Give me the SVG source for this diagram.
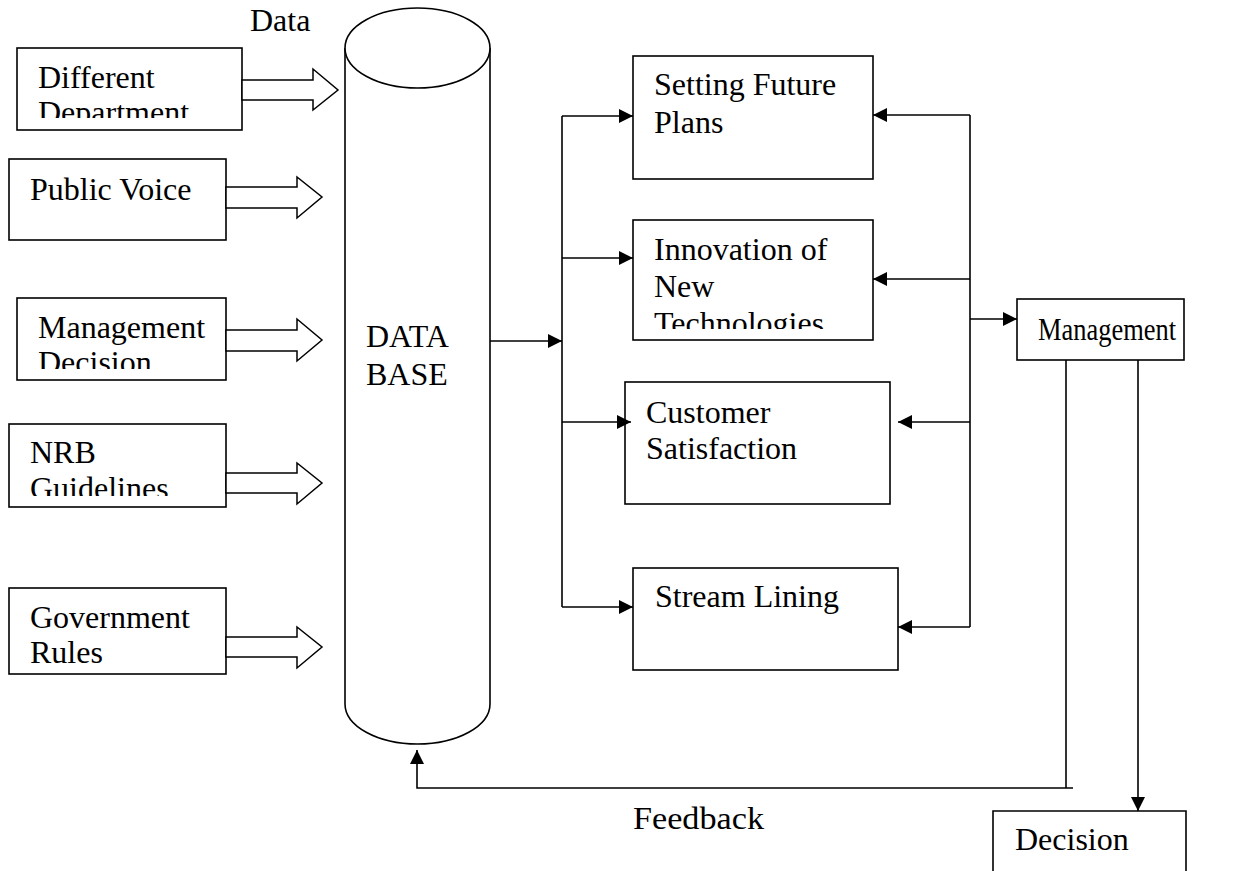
<svg xmlns="http://www.w3.org/2000/svg" width="1235" height="871" viewBox="0 0 1235 871">
<style>
text{font-family:"Liberation Serif","Times New Roman",serif;font-size:32px;fill:#000}
.box{fill:#fff;stroke:#000;stroke-width:1.6}
.barrow{fill:#fff;stroke:#000;stroke-width:1.5;stroke-linejoin:miter}
.ln{fill:none;stroke:#000;stroke-width:1.6}
.ar{fill:none;stroke:#000;stroke-width:1.6;marker-end:url(#ah)}
</style>
<defs>
<marker id="ah" markerUnits="userSpaceOnUse" markerWidth="14" markerHeight="14" viewBox="0 0 14 14" refX="14" refY="7" orient="auto">
<path d="M0,0 L14,7 L0,14 z" fill="#000"/>
</marker>
<clipPath id="c1"><rect x="17" y="48" width="225" height="70"/></clipPath>
<clipPath id="c3"><rect x="17" y="298" width="209" height="71"/></clipPath>
<clipPath id="c4"><rect x="9" y="424" width="217" height="72"/></clipPath>
<clipPath id="c5"><rect x="9" y="588" width="217" height="76"/></clipPath>
<clipPath id="c7"><rect x="633" y="220" width="240" height="109"/></clipPath>
</defs>
<rect width="1235" height="871" fill="#fff"/>
<text x="250" y="31">Data</text>
<g id="different-department">
<rect class="box" x="17" y="48" width="225" height="82"/>
<g clip-path="url(#c1)"><text x="38" y="88">Different</text><text x="38" y="123">Department</text></g>
</g>
<g id="public-voice">
<rect class="box" x="9" y="159" width="217" height="81"/>
<text x="30" y="200">Public Voice</text>
</g>
<g id="management-decision">
<rect class="box" x="17" y="298" width="209" height="82"/>
<g clip-path="url(#c3)"><text x="38" y="338">Management</text><text x="38" y="373">Decision</text></g>
</g>
<g id="nrb-guidelines">
<rect class="box" x="9" y="424" width="217" height="83"/>
<g clip-path="url(#c4)"><text x="30" y="463">NRB</text><text x="30" y="499">Guidelines</text></g>
</g>
<g id="government-rules">
<rect class="box" x="9" y="588" width="217" height="86"/>
<g clip-path="url(#c5)"><text x="30" y="628">Government</text><text x="30" y="663">Rules</text></g>
</g>
<g id="block-arrows">
<polygon class="barrow" points="242,80 313,80 313,69 338,90 313,110 313,100 242,100"/>
<polygon class="barrow" points="226,187 297,187 297,177 322,197 297,218 297,208 226,208"/>
<polygon class="barrow" points="226,330 297,330 297,319 322,340 297,361 297,351 226,351"/>
<polygon class="barrow" points="226,473 297,473 297,463 322,483 297,504 297,493 226,493"/>
<polygon class="barrow" points="226,637 297,637 297,627 322,647 297,668 297,657 226,657"/>
</g>
<g id="database">
<path class="box" d="M345,48 L345,704 A72.5,40 0 0 0 490,704 L490,48"/>
<ellipse class="box" cx="417.5" cy="48" rx="72.5" ry="40"/>
<text x="366" y="347">DATA</text>
<text x="366" y="385">BASE</text>
</g>
<g id="setting-future-plans">
<rect class="box" x="633" y="56" width="240" height="123"/>
<text x="654" y="95">Setting Future</text>
<text x="654" y="133">Plans</text>
</g>
<g id="innovation">
<rect class="box" x="633" y="220" width="240" height="120"/>
<g clip-path="url(#c7)"><text x="654" y="260">Innovation of</text><text x="654" y="297">New</text><text x="654" y="334">Technologies</text></g>
</g>
<g id="customer-satisfaction">
<rect class="box" x="625" y="382" width="265" height="122"/>
<text x="646" y="423">Customer</text>
<text x="646" y="459">Satisfaction</text>
</g>
<g id="stream-lining">
<rect class="box" x="633" y="568" width="265" height="102"/>
<text x="655" y="607">Stream Lining</text>
</g>
<g id="management">
<rect class="box" x="1017" y="299" width="167" height="61"/>
<text x="1038" y="340" textLength="138" lengthAdjust="spacingAndGlyphs">Management</text>
</g>
<g id="decision">
<path class="box" d="M993,880 L993,811 L1186,811 L1186,880"/>
<text x="1015" y="850">Decision</text>
</g>
<text x="633" y="829" textLength="131" lengthAdjust="spacingAndGlyphs">Feedback</text>
<g id="connectors">
<line class="ar" x1="490" y1="341" x2="562" y2="341"/>
<line class="ln" x1="562" y1="116" x2="562" y2="607"/>
<line class="ar" x1="562" y1="116" x2="633" y2="116"/>
<line class="ar" x1="562" y1="258" x2="633" y2="258"/>
<line class="ar" x1="562" y1="422" x2="631" y2="422"/>
<line class="ar" x1="562" y1="607" x2="633" y2="607"/>
<line class="ln" x1="970" y1="115" x2="970" y2="627"/>
<line class="ar" x1="970" y1="115" x2="873" y2="115"/>
<line class="ar" x1="970" y1="279" x2="873" y2="279"/>
<line class="ar" x1="970" y1="422" x2="898" y2="422"/>
<line class="ar" x1="970" y1="627" x2="898" y2="627"/>
<line class="ar" x1="970" y1="319" x2="1017" y2="319"/>
<line class="ar" x1="1138" y1="360" x2="1138" y2="811"/>
<line class="ln" x1="1066" y1="360" x2="1066" y2="788"/>
<polyline class="ar" points="1073,788 417,788 417,750"/>
</g>
</svg>
